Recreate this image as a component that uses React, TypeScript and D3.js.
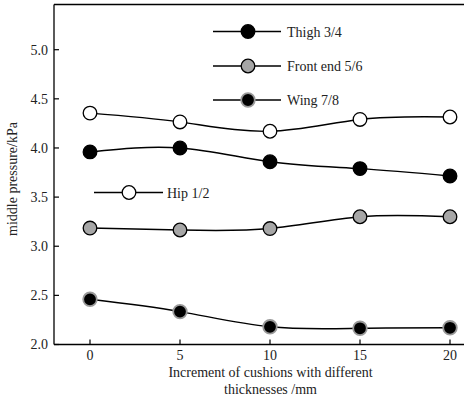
import React from "react";
import * as d3 from "d3";

const xValues = [0, 5, 10, 15, 20];
const xTicks = [0, 5, 10, 15, 20];
const yTicks = [2.0, 2.5, 3.0, 3.5, 4.0, 4.5, 5.0];

const hip = [4.355, 4.265, 4.17, 4.29, 4.315];
const thigh = [3.96, 4.0, 3.86, 3.79, 3.715];
const frontEnd = [3.185, 3.165, 3.18, 3.3, 3.3];
const wing = [2.46, 2.335, 2.18, 2.165, 2.17];

const seriesNames = ["Hip 1/2", "Thigh 3/4", "Front end 5/6", "Wing 7/8"];

const W = 464;
const H = 402;
const FONT = '"Liberation Serif", "DejaVu Serif", serif';
const TS: React.CSSProperties = { fontFamily: FONT, fontSize: 14 };

export default function App() {
  const x = d3.scaleLinear().domain([-2, 21]).range([54, 468]);
  const y = d3.scaleLinear().domain([2.0, 5.46]).range([344.5, 4.5]);
  const line = d3
    .line<number>()
    .x((_, i) => x(xValues[i]))
    .y((d) => y(d))
    .curve(d3.curveNatural);

  const styles = [
    { data: hip, fill: "#ffffff", stroke: "#000000", sw: 1.3 },
    { data: thigh, fill: "#000000", stroke: "#000000", sw: 1.3 },
    { data: frontEnd, fill: "#a6a6a6", stroke: "#000000", sw: 1.3 },
    { data: wing, fill: "#000000", stroke: "#9a9a9a", sw: 1.8 },
  ];

  const legendRows = [
    { idx: 1, x1: 213, x2: 281, cx: 248, cy: 31.5, tx: 287 },
    { idx: 2, x1: 213, x2: 281, cx: 248, cy: 66, tx: 287 },
    { idx: 3, x1: 213, x2: 281, cx: 248, cy: 100, tx: 287 },
    { idx: 0, x1: 94, x2: 163, cx: 129, cy: 192.5, tx: 167 },
  ];

  const r = 6.8;
  const left = x(-2);
  const bottom = y(2.0);
  const top = y(5.46);
  const right = x(21);

  return (
    <svg
      width={W}
      height={H}
      style={{ position: "absolute", left: 0, top: 0, background: "#fff" }}
    >
      <rect x={0} y={0} width={W} height={H} fill="#fff" />
      <line x1={left} x2={right} y1={top} y2={top} stroke="#000" strokeWidth={1.3} />
      <line x1={left} x2={left} y1={top} y2={bottom} stroke="#000" strokeWidth={1.3} />
      <line x1={left} x2={right} y1={bottom} y2={bottom} stroke="#000" strokeWidth={1.3} />

      {yTicks.map((t) => (
        <g key={"y" + t}>
          <line x1={left} x2={left + 5} y1={y(t)} y2={y(t)} stroke="#000" strokeWidth={1.2} />
          <text x={left - 6} y={y(t) + 4.8} textAnchor="end" style={TS} fill="#222">
            {t.toFixed(1)}
          </text>
        </g>
      ))}
      {xTicks.map((t) => (
        <g key={"x" + t}>
          <line x1={x(t)} x2={x(t)} y1={bottom} y2={bottom - 5} stroke="#000" strokeWidth={1.2} />
          <text x={x(t)} y={bottom + 15} textAnchor="middle" style={TS} fill="#222">
            {t}
          </text>
        </g>
      ))}

      <text x={270.5} y={377} textAnchor="middle" style={TS} fill="#222">
        Increment of cushions with different
      </text>
      <text x={270.5} y={394} textAnchor="middle" style={TS} fill="#222">
        thicknesses /mm
      </text>
      <text
        transform={`translate(17,${179}) rotate(-90)`}
        textAnchor="middle"
        style={TS}
        fill="#222"
      >
        middle pressure/kPa
      </text>

      {styles.map((s, i) => (
        <g key={"s" + i}>
          <path d={line(s.data) || ""} fill="none" stroke="#000" strokeWidth={1.4} />
          {s.data.map((v, j) => (
            <circle
              key={j}
              cx={x(xValues[j])}
              cy={y(v)}
              r={r}
              fill={s.fill}
              stroke={s.stroke}
              strokeWidth={s.sw}
            />
          ))}
        </g>
      ))}

      {legendRows.map((l) => {
        const s = styles[l.idx];
        return (
          <g key={"l" + l.idx}>
            <line x1={l.x1} x2={l.x2} y1={l.cy} y2={l.cy} stroke="#000" strokeWidth={1.4} />
            <circle cx={l.cx} cy={l.cy} r={r} fill={s.fill} stroke={s.stroke} strokeWidth={s.sw} />
            <text x={l.tx} y={l.cy + 5} style={TS} fill="#222">
              {seriesNames[l.idx]}
            </text>
          </g>
        );
      })}
    </svg>
  );
}
